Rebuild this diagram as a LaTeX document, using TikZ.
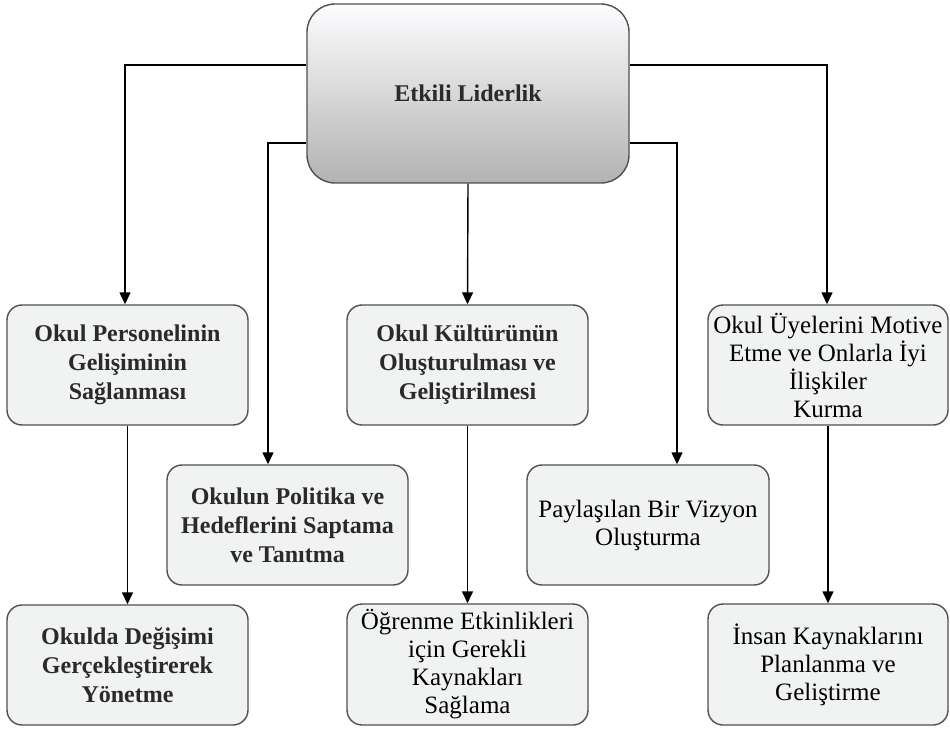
\documentclass[tikz,border=0pt]{standalone}
\usepackage{fontspec}
\setmainfont{Liberation Serif}
\usetikzlibrary{arrows.meta}
\definecolor{boxfill}{HTML}{F1F2F2}
\definecolor{boxline}{HTML}{505050}
\definecolor{heavytext}{HTML}{2A2A2A}
\begin{document}
\begin{tikzpicture}[x=1pt,y=-1pt,
  card/.style={draw=boxline, line width=1.4pt, fill=boxfill, rounded corners=15pt,
    minimum width=241pt, minimum height=120pt, align=center, inner sep=2pt},
  heavy/.style={font=\fontsize{24}{29}\selectfont\bfseries, text=heavytext},
  plain/.style={font=\fontsize{25}{28}\selectfont, text=black},
  link/.style={line width=1.4pt, draw=black, -{Triangle[length=12pt,width=11pt]}},
  trunk/.style={line width=1.4pt, draw=black}
]
\useasboundingbox (0,0) rectangle (950,730);

% central box
\node[draw=boxline, line width=1.4pt, rounded corners=28pt, top color=white!96!blue!20!white, bottom color=black!30,
  minimum width=322pt, minimum height=179pt, heavy] (top) at (468,93.5) {Etkili Liderlik};

% first row
\node[card, heavy] (p1) at (127.5,365) {Okul Personelinin\\Gelişiminin\\Sağlanması};
\node[card, heavy] (p2) at (467.5,365) {Okul Kültürünün\\Oluşturulması ve\\Geliştirilmesi};
\node[card, plain, minimum width=240pt] (p3) at (828,365) {Okul Üyelerini Motive\\Etme ve Onlarla İyi\\İlişkiler\\Kurma};

% second row
\node[card, heavy] (q1) at (287.5,525) {Okulun Politika ve\\Hedeflerini Saptama\\ve Tanıtma};
\node[card, plain, minimum width=242pt] (q2) at (648,525) {Paylaşılan Bir Vizyon\\Oluşturma};

% third row
\node[card, heavy] (r1) at (127.5,665) {Okulda Değişimi\\Gerçekleştirerek\\Yönetme};
\node[card, plain, minimum height=121pt] (r2) at (467.5,664.5) {Öğrenme Etkinlikleri\\için Gerekli\\Kaynakları\\Sağlama};
\node[card, plain, minimum width=240pt, minimum height=121pt] (r3) at (828,664.5) {İnsan Kaynaklarını\\Planlanma ve\\Geliştirme};

% connectors from the central box
\draw[link] ([yshift=28.5pt]top.west) -| ([xshift=-2.5pt]p1.north);
\draw[link] ([yshift=-49.5pt]top.west) -| ([xshift=-19.5pt]q1.north);
\draw[link] (top.south) -- (p2.north);
\draw[link] ([yshift=-49.5pt]top.east) -| ([xshift=29pt]q2.north);
\draw[link] ([yshift=28.5pt]top.east) -| ([xshift=-1pt]p3.north);

% connectors down the columns
\draw[link] (p1.south) -- (r1.north);
\draw[link] (p2.south) -- (r2.north);
\draw[link] (p3.south) -- (r3.north);
\end{tikzpicture}
\end{document}
